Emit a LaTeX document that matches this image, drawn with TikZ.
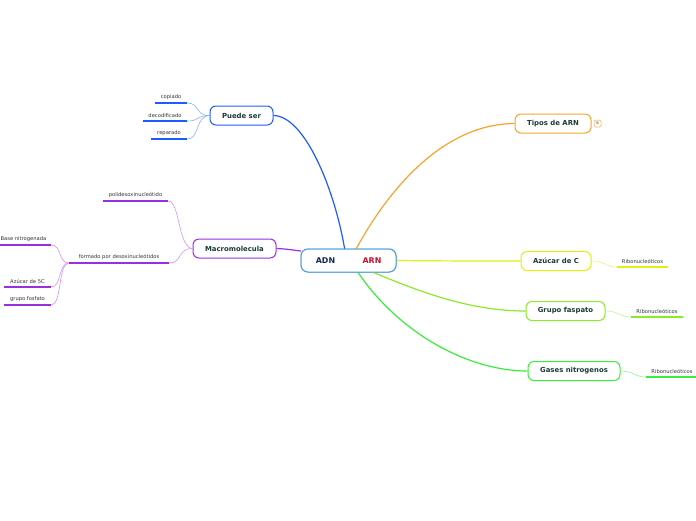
\documentclass[tikz,border=0pt]{standalone}
\usepackage{fontspec}
\setmainfont{DejaVu Sans}
\begin{document}
\begin{tikzpicture}[x=1pt,y=-1pt,
  topic/.style={draw=#1, line width=1pt, rounded corners=6pt, fill=white, font=\fontsize{6.9}{7.5}\selectfont\bfseries, text=nodetext, inner xsep=5pt, minimum height=19pt},
  leaf/.style={font=\fontsize{5.2}{5.8}\selectfont, text=leaftext, inner sep=0pt, anchor=south, minimum height=11pt},
  ul/.style={line width=1.6pt, draw=#1},
  br/.style={line width=1.2pt, draw=#1},
  tw/.style={line width=0.6pt, draw=#1}]
\definecolor{nodetext}{HTML}{1B3B36}
\definecolor{leaftext}{HTML}{333333}
\definecolor{cblue}{HTML}{1F5CFF}
\definecolor{lblue}{HTML}{8FB0FF}
\definecolor{cpurp}{HTML}{9B2FDF}
\definecolor{lpurp}{HTML}{D593F7}
\definecolor{corange}{HTML}{F7A52B}
\definecolor{cyellow}{HTML}{E3EE12}
\definecolor{lyellow}{HTML}{F0F57E}
\definecolor{clgreen}{HTML}{8AEB26}
\definecolor{llgreen}{HTML}{C4F58E}
\definecolor{cgreen}{HTML}{3BEE3B}
\definecolor{lgreen}{HTML}{98F598}
\definecolor{ccenter}{HTML}{4F9FD8}
\definecolor{adn}{HTML}{0F2A5C}
\definecolor{arn}{HTML}{C8102E}
\useasboundingbox (0,0) rectangle (696,520);
\clip (0,0) rectangle (696,520);
\fill[white] (0,0) rectangle (696,520);

\coordinate (cb) at (345,251);
\coordinate (co) at (355,251);
\coordinate (cg1) at (370,271);
\coordinate (cg2) at (357,271);
\coordinate (cp) at (301,251);

% nodes
\node[topic=ccenter, minimum width=95pt, minimum height=23pt, rounded corners=7pt] (c) at (348.5,260.5) {};
\node[topic=cblue, minimum width=63pt] (ps) at (241.5,115.5) {Puede ser};
\node[topic=cpurp, minimum width=83pt] (mm) at (234.5,248.5) {Macromolecula};
\node[topic=corange, minimum width=76pt] (ta) at (553,123.5) {Tipos de ARN};
\node[draw=corange, line width=0.5pt, rounded corners=1.5pt, fill=white, font=\fontsize{3.8}{4}\selectfont, text=leaftext, minimum width=7pt, minimum height=7pt, inner sep=0pt] (six) at (597.5,123.5) {6};
\node[topic=cyellow, minimum width=70pt] (az) at (556,261) {Azúcar de C};
\node[topic=clgreen, minimum width=79pt] (gf) at (565.5,311) {Grupo faspato};
\node[topic=cgreen, minimum width=92pt] (gn) at (574,371) {Gases nitrogenos};

% main branches
\draw[br=cblue] (ps.east) .. controls (305,116) and (335,190) .. (cb);
\draw[br=corange] (co) .. controls (385,195) and (440,124) .. (ta.west);
\draw[br=cpurp] (mm.east) .. controls (288,249) and (292,250) .. (cp);
\draw[br=cyellow] (c.east) .. controls (450,261) and (480,261) .. (az.west);
\draw[br=clgreen] (cg1) .. controls (420,292) and (470,311) .. (gf.west);
\draw[br=cgreen] (cg2) .. controls (400,335) and (470,371) .. (gn.west);

% central node on top
\node[topic=ccenter, minimum width=95pt, minimum height=23pt, rounded corners=7pt] (c2) at (348.5,260.5) {};
\node[font=\fontsize{7.9}{8.5}\selectfont\bfseries, text=adn] (adn) at (325.5,261) {ADN};
\node[font=\fontsize{7.9}{8.5}\selectfont\bfseries, text=arn] (arn) at (372,261) {ARN};

% Puede ser leaves
\node[leaf, minimum width=32pt] (l1) at (171,103) {copiado};
\node[leaf, minimum width=44pt] (l2) at (165,121) {decodificado};
\node[leaf, minimum width=36pt] (l3) at (169,139) {reparado};
\foreach \n in {l1,l2,l3} \draw[ul=cblue] (\n.south west) -- (\n.south east);
\draw[tw=lblue] (ps.west) .. controls (195,116) and (200,103) .. (l1.south east);
\draw[tw=lblue] (ps.west) .. controls (195,116) and (200,121) .. (l2.south east);
\draw[tw=lblue] (ps.west) .. controls (195,116) and (200,139) .. (l3.south east);

% Macromolecula leaves
\node[leaf, minimum width=65pt] (p1) at (135.5,201) {polidesoxinucleótido};
\node[leaf, minimum width=100pt] (p2) at (119,263) {formado por desoxinucleótidos};
\draw[ul=cpurp] (p1.south west) -- (p1.south east);
\draw[ul=cpurp] (p2.south west) -- (p2.south east);
\draw[tw=lpurp] (mm.west) .. controls (178,248) and (180,201) .. (p1.south east);
\draw[tw=lpurp] (mm.west) .. controls (178,248) and (182,263) .. (p2.south east);

\node[leaf, minimum width=55pt] (q1) at (23.5,245) {Base nitrogenada};
\node[leaf, minimum width=47pt] (q2) at (27.5,287) {Azúcar de 5C};
\node[leaf, minimum width=47pt] (q3) at (27.5,305) {grupo fosfato};
\foreach \n in {q1,q2,q3} \draw[ul=cpurp] (\n.south west) -- (\n.south east);
\draw[tw=lpurp] (p2.south west) .. controls (58,263) and (62,245) .. (q1.south east);
\draw[tw=lpurp] (p2.south west) .. controls (58,263) and (62,287) .. (q2.south east);
\draw[tw=lpurp] (p2.south west) .. controls (58,263) and (62,305) .. (q3.south east);

% right leaves
\node[leaf, minimum width=51pt] (r1) at (642.5,267) {Ribonucleóticos};
\node[leaf, minimum width=52pt] (r2) at (657,317) {Ribonucleóticos};
\node[leaf, minimum width=52pt] (r3) at (672,377) {Ribonucleóticos};
\draw[ul=cyellow] (r1.south west) -- (r1.south east);
\draw[ul=clgreen] (r2.south west) -- (r2.south east);
\draw[ul=cgreen] (r3.south west) -- (r3.south east);
\draw[tw=lyellow] (az.east) .. controls (605,261) and (605,267) .. (r1.south west);
\draw[tw=llgreen] (gf.east) .. controls (619,311) and (619,317) .. (r2.south west);
\draw[tw=lgreen] (gn.east) .. controls (634,371) and (634,377) .. (r3.south west);
\end{tikzpicture}
\end{document}
